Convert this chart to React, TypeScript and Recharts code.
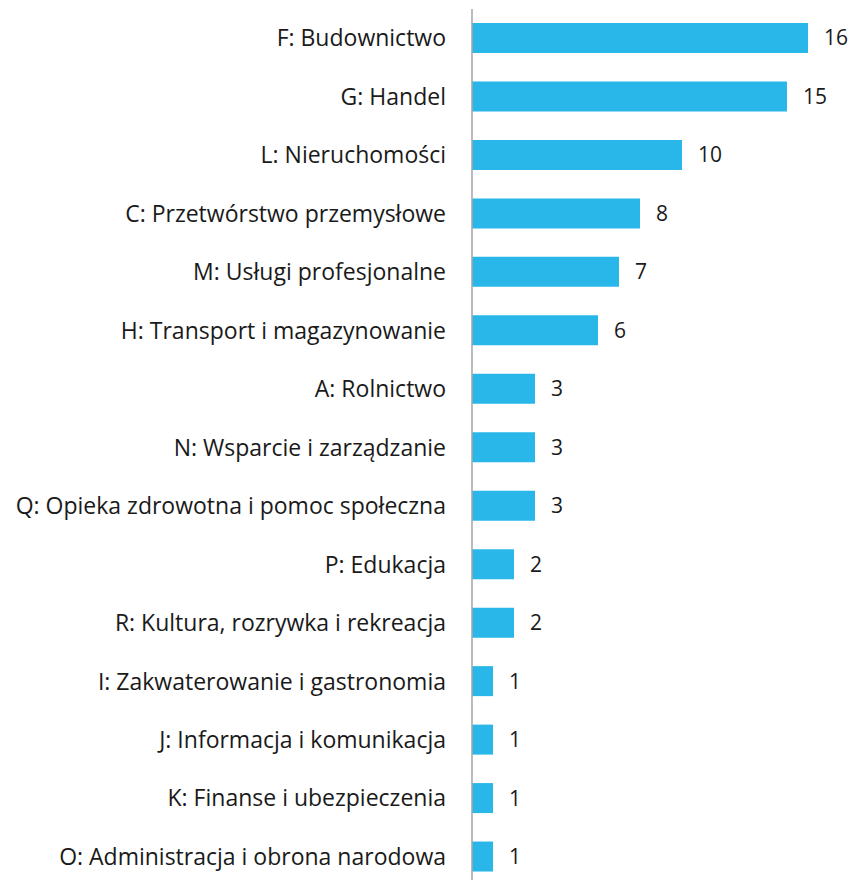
import { BarChart, Bar, XAxis, YAxis, LabelList } from "recharts"

const categories = [
  "F: Budownictwo",
  "G: Handel",
  "L: Nieruchomości",
  "C: Przetwórstwo przemysłowe",
  "M: Usługi profesjonalne",
  "H: Transport i magazynowanie",
  "A: Rolnictwo",
  "N: Wsparcie i zarządzanie",
  "Q: Opieka zdrowotna i pomoc społeczna",
  "P: Edukacja",
  "R: Kultura, rozrywka i rekreacja",
  "I: Zakwaterowanie i gastronomia",
  "J: Informacja i komunikacja",
  "K: Finanse i ubezpieczenia",
  "O: Administracja i obrona narodowa",
]

const counts = [16, 15, 10, 8, 7, 6, 3, 3, 3, 2, 2, 1, 1, 1, 1]

const data = categories.map((name, i) => ({ name, count: counts[i] }))

const font = "'Open Sans', sans-serif"

export default function App() {
  return (
    <div style={{ position: "absolute", left: 0, top: 0, width: 854, height: 880, overflow: "hidden" }}>
      <BarChart
        width={854}
        height={886}
        data={data}
        layout="vertical"
        margin={{ top: 9, right: 46, bottom: 0, left: 0 }}
      >
        <XAxis type="number" domain={[0, 16]} hide />
        <YAxis
          type="category"
          dataKey="name"
          width={472}
          tickLine={false}
          tickSize={0}
          tickMargin={26}
          axisLine={{ stroke: "#a6a6a6", strokeWidth: 1.5 }}
          tick={{ fill: "#1a1a1a", fontSize: 23, fontFamily: font }}
          interval={0}
        />
        <Bar dataKey="count" fill="#29B7EA" barSize={30} isAnimationActive={false}>
          <LabelList
            dataKey="count"
            position="right"
            offset={16}
            style={{ fill: "#1a1a1a", fontSize: 21, fontFamily: font }}
          />
        </Bar>
      </BarChart>
    </div>
  )
}
